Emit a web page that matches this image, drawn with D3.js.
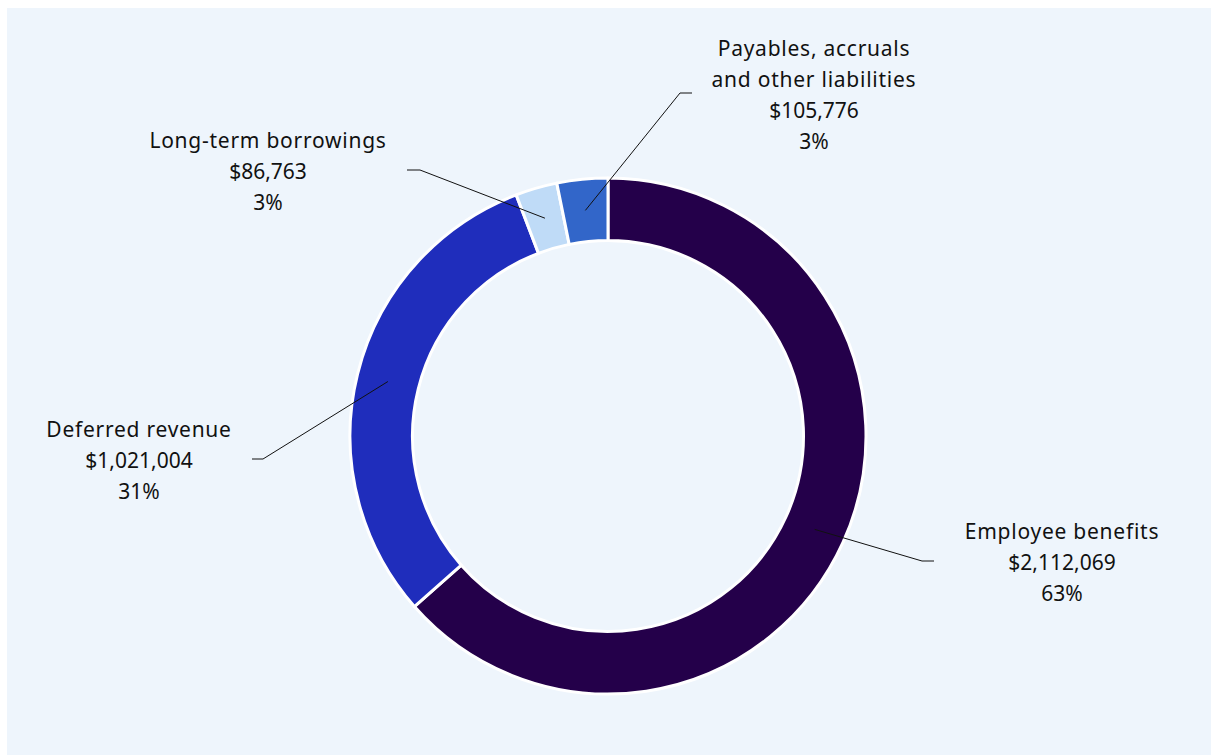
<!DOCTYPE html>
<html>
<head>
<meta charset="utf-8">
<script src="https://cdn.jsdelivr.net/npm/d3@7"></script>
<style>
  html, body { margin: 0; padding: 0; background: #ffffff; }
  svg { display: block; }
  text { font-family: "Noto Sans", "Open Sans", sans-serif; fill: #111111; }
</style>
</head>
<body>
<svg id="chart" width="1211" height="755"></svg>
<script>
// Liabilities breakdown
const categories = ["Employee benefits", "Deferred revenue", "Long-term borrowings", "Payables, accruals\nand other liabilities"];
const values = [2112069, 1021004, 86763, 105776];
const percentLabels = ["63%", "31%", "3%", "3%"];
const colors = ["#24004a", "#1f2dbc", "#bfdbf7", "#3266c9"];

// Label placement: leader elbow offset from the centre, tail direction, text centre x offset
const labelLayout = [
  { elbow: [314, 125], tail: 12, textDx: 454 },
  { elbow: [-345, 23], tail: -11, textDx: -469 },
  { elbow: [-188, -266], tail: -13, textDx: -340 },
  { elbow: [72, -343], tail: 12, textDx: 206 }
];

const W = 1211, H = 755;
const cx = 608, cy = 436;
const outerR = 258, innerR = 195.5;
const fmt = d3.format("$,");

const svg = d3.select("#chart");

svg.append("rect")
  .attr("x", 7).attr("y", 8)
  .attr("width", W - 7).attr("height", H - 8)
  .attr("fill", "#eef5fc");

const g = svg.append("g").attr("transform", `translate(${cx},${cy})`);

const pie = d3.pie().sort(null).value(d => d.value);
const arcs = pie(categories.map((c, i) => ({ name: c, value: values[i], pct: percentLabels[i], color: colors[i] })));

const arc = d3.arc().innerRadius(innerR).outerRadius(outerR);
const midArc = d3.arc().innerRadius((innerR + outerR) / 2).outerRadius((innerR + outerR) / 2);

g.selectAll("path.slice")
  .data(arcs)
  .join("path")
  .attr("class", "slice")
  .attr("d", arc)
  .attr("fill", d => d.data.color)
  .attr("stroke", "#ffffff")
  .attr("stroke-width", 3)
  .attr("stroke-linejoin", "round");

// Leader lines
g.selectAll("polyline.leader")
  .data(arcs)
  .join("polyline")
  .attr("class", "leader")
  .attr("fill", "none")
  .attr("stroke", "#111111")
  .attr("stroke-width", 1)
  .attr("points", (d, i) => {
    const L = labelLayout[i];
    const c = midArc.centroid(d);
    return [c, L.elbow, [L.elbow[0] + L.tail, L.elbow[1]]].map(p => p.join(",")).join(" ");
  });

// Labels: category name lines, value, share
const lineH = 31;
arcs.forEach((d, i) => {
  const L = labelLayout[i];
  const nameLines = d.data.name.split("\n");
  const lines = nameLines.concat([fmt(d.data.value), d.data.pct]);
  const top = L.elbow[1] + 2 - (lines.length - 1) * lineH / 2;
  const t = g.append("text")
    .attr("text-anchor", "middle")
    .attr("font-size", 21);
  lines.forEach((s, k) => {
    t.append("tspan")
      .attr("x", L.textDx)
      .attr("y", top + k * lineH)
      .attr("dy", "0.35em")
      .attr("letter-spacing", k < nameLines.length ? 0.75 : 0)
      .text(s);
  });
});
</script>
</body>
</html>
